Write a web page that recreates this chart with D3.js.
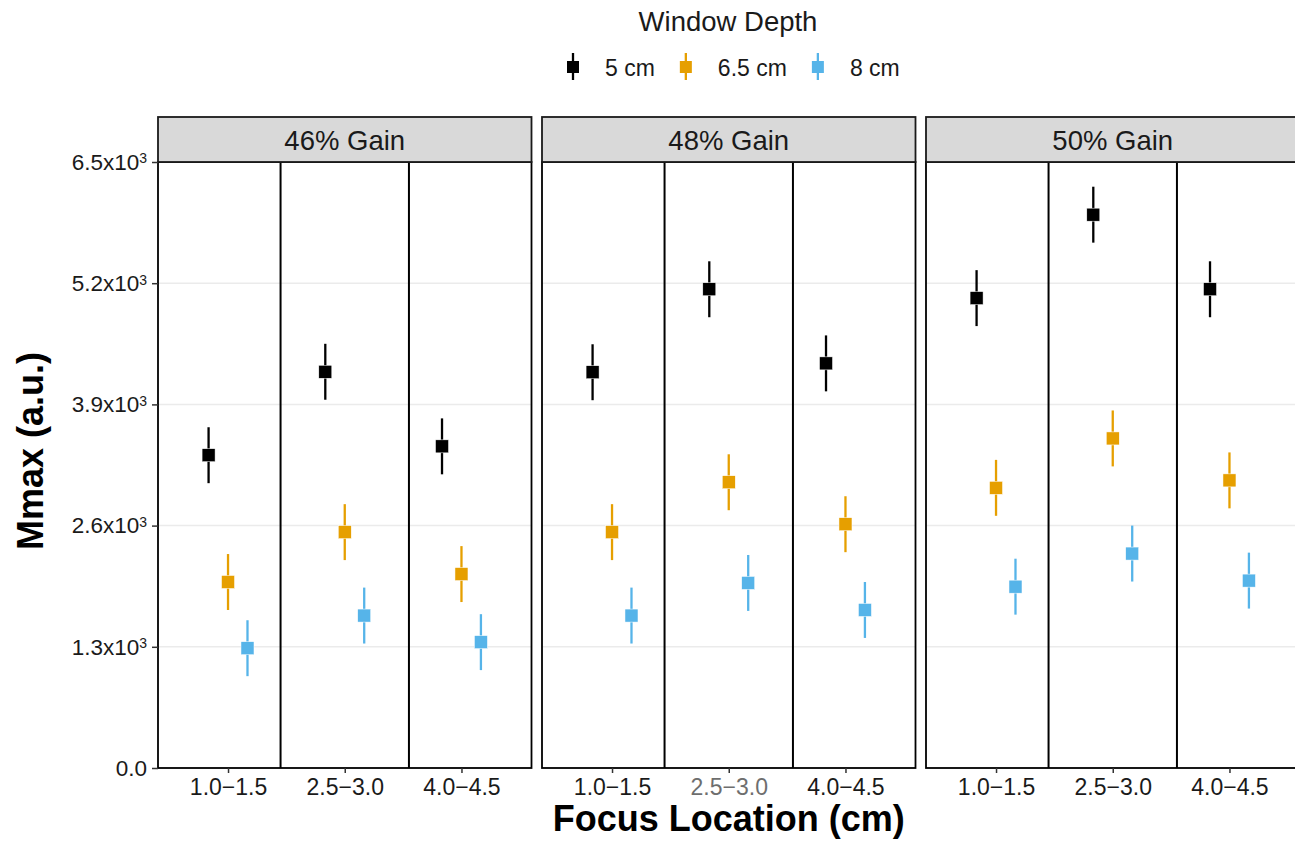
<!DOCTYPE html>
<html>
<head>
<meta charset="utf-8">
<script src="https://cdn.jsdelivr.net/npm/d3@7"></script>
<style>
  body { margin: 0; background: #fff; }
  svg { display: block; font-family: "Liberation Sans", Arial, sans-serif; }
</style>
</head>
<body>
<div id="chart"></div>
<script>
// datos
const gains = ['46% Gain', '48% Gain', '50% Gain'];
const focusLocations = ['1.0−1.5', '2.5−3.0', '4.0−4.5'];
const depths = ['5 cm', '6.5 cm', '8 cm'];
const depthColors = ['#000000', '#E69F00', '#56B4E9'];

// Mmax por ganancia: filas = profundidad, columnas = focus location
const mmax46 = [[3355, 4250, 3450], [1995, 2530, 2080], [1285, 1635, 1350]];
const mmax48 = [[4245, 5135, 4340], [2530, 3065, 2615], [1635, 1985, 1695]];
const mmax50 = [[5040, 5935, 5135], [3005, 3535, 3085], [1945, 2300, 2010]];
const mmaxErr = [300, 300, 300];
const yTicks = [0, 1300, 2600, 3900, 5200, 6500];

const W = 1295, H = 847;
const plotTop = 162, plotBottom = 768;

const svg = d3.select('#chart').append('svg')
    .attr('width', W).attr('height', H);

const puntos = [];
[mmax46, mmax48, mmax50].forEach((tabla, gi) => {
    tabla.forEach((fila, di) => {
        fila.forEach((v, fi) => {
            puntos.push({ gain: gains[gi], depth: di, focus: fi + 1, value: v, err: mmaxErr[di] });
        });
    });
});

const panelX = d3.scaleBand().domain(gains).range([158, 1299.5]).paddingInner(10.5 / 384);
const bw = panelX.bandwidth();
const x = d3.scaleLinear().domain([0.4, 3.6]).range([0, bw]);
const y = d3.scaleLinear().domain([0, 6500]).range([plotBottom, plotTop]);
const dodge = d => (d - 1) / 6;

gains.forEach((g, gi) => {
    const p = svg.append('g').attr('transform', `translate(${panelX(g)},0)`);

    // lineas de la grilla
    p.append('g').selectAll('line').data(yTicks).enter().append('line')
        .attr('x1', 0).attr('x2', bw)
        .attr('y1', d => y(d)).attr('y2', d => y(d))
        .attr('stroke', '#ebebeb').attr('stroke-width', 1.5);

    // separadores entre grupos
    p.append('g').selectAll('line').data([1.45, 2.55]).enter().append('line')
        .attr('x1', d => x(d)).attr('x2', d => x(d))
        .attr('y1', plotTop).attr('y2', plotBottom)
        .attr('stroke', '#000').attr('stroke-width', 2);

    const datos = puntos.filter(d => d.gain === g);

    p.append('g').selectAll('line').data(datos).enter().append('line')
        .attr('x1', d => x(d.focus + dodge(d.depth))).attr('x2', d => x(d.focus + dodge(d.depth)))
        .attr('y1', d => y(d.value - d.err)).attr('y2', d => y(d.value + d.err))
        .attr('stroke', d => depthColors[d.depth]).attr('stroke-width', 2.3);

    p.append('g').selectAll('rect').data(datos).enter().append('rect')
        .attr('x', d => x(d.focus + dodge(d.depth)) - 6.5)
        .attr('y', d => y(d.value) - 6.5)
        .attr('width', 13).attr('height', 13)
        .attr('fill', d => depthColors[d.depth])
        .attr('stroke', '#fff').attr('stroke-width', 0.5);

    // borde del panel
    p.append('rect').attr('x', 0).attr('y', plotTop).attr('width', bw).attr('height', plotBottom - plotTop)
        .attr('fill', 'none').attr('stroke', '#000').attr('stroke-width', 1.8);

    // franja con el titulo
    p.append('rect').attr('x', 0).attr('y', 117).attr('width', bw).attr('height', plotTop - 117)
        .attr('fill', '#d9d9d9').attr('stroke', '#1a1a1a').attr('stroke-width', 1.8);
    p.append('text').attr('x', bw / 2).attr('y', 150).attr('text-anchor', 'middle')
        .attr('font-size', 27.5).attr('fill', '#1a1a1a').text(g);

    // eje x
    const ax = p.append('g').attr('transform', `translate(0,${plotBottom})`)
        .call(d3.axisBottom(x).tickValues([1, 2, 3]).tickFormat(i => focusLocations[i - 1])
            .tickSize(5).tickPadding(6));
    ax.select('.domain').remove();
    ax.selectAll('.tick line').attr('stroke', '#333').attr('stroke-width', 1.5);
    ax.selectAll('.tick text').attr('font-size', 23).attr('font-family', 'inherit')
        .attr('fill', (d, i) => (gi === 1 && i === 1) ? '#6e6e6e' : '#1a1a1a');
});

// eje y
const ay = svg.append('g').attr('transform', `translate(${panelX(gains[0])},0)`)
    .call(d3.axisLeft(y).tickValues(yTicks).tickSize(6).tickPadding(5));
ay.select('.domain').remove();
ay.selectAll('.tick line').attr('stroke', '#333').attr('stroke-width', 1.5);
ay.selectAll('.tick text').attr('font-size', 22.5).attr('font-family', 'inherit').attr('fill', '#1a1a1a')
    .each(function (d) {
        const t = d3.select(this).text(null);
        if (d === 0) { t.text('0.0'); return; }
        t.append('tspan').text((d / 1000).toFixed(1) + 'x10');
        t.append('tspan').attr('dy', '-0.45em').attr('font-size', 14).text('3');
    });

// titulos de ejes
svg.append('text').attr('x', panelX(gains[1]) + bw / 2).attr('y', 831)
    .attr('text-anchor', 'middle').attr('font-size', 36).attr('font-weight', 'bold')
    .text('Focus Location (cm)');
svg.append('text').attr('transform', 'translate(43,451) rotate(-90)')
    .attr('text-anchor', 'middle').attr('font-size', 36).attr('font-weight', 'bold')
    .text('Mmax (a.u.)');

// leyenda
svg.append('text').attr('x', 728).attr('y', 31).attr('text-anchor', 'middle')
    .attr('font-size', 27.5).attr('fill', '#1a1a1a').text('Window Depth');

let lx = 573;
depths.forEach((d, i) => {
    const k = svg.append('g');
    k.append('line').attr('x1', lx).attr('x2', lx).attr('y1', 53).attr('y2', 80)
        .attr('stroke', depthColors[i]).attr('stroke-width', 2.3);
    k.append('rect').attr('x', lx - 6).attr('y', 61).attr('width', 12).attr('height', 12)
        .attr('fill', depthColors[i]);
    const t = k.append('text').attr('x', lx + 32).attr('y', 76).attr('font-size', 23)
        .attr('fill', '#1a1a1a').text(d);
    lx = lx + 32 + t.node().getComputedTextLength() + 31;
});
</script>
</body>
</html>
